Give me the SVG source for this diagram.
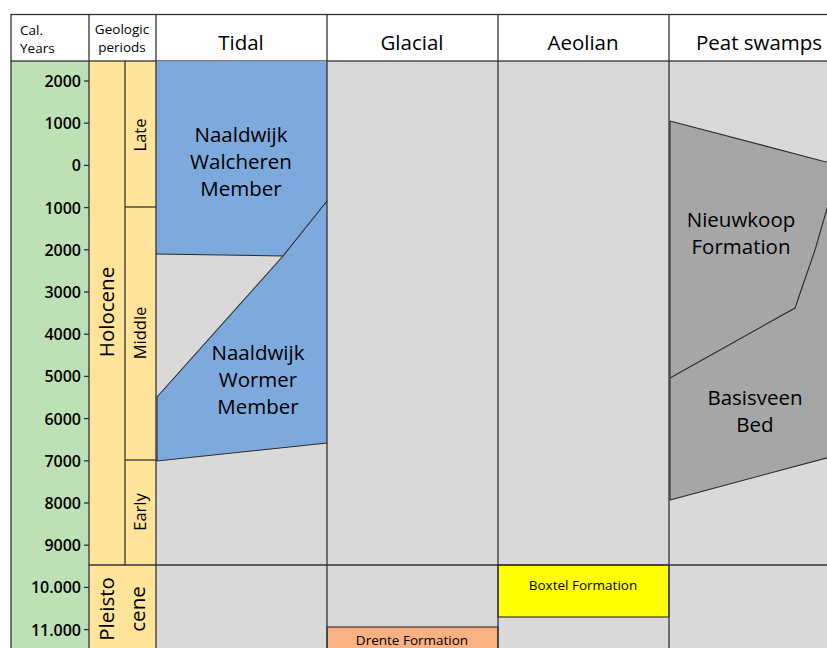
<svg xmlns="http://www.w3.org/2000/svg" width="827" height="648" viewBox="0 0 827 648">
  <style>
    text { font-family: "Open Sans", "Noto Sans", "DejaVu Sans", sans-serif; fill: #000; }
    .hdr { font-size: 20.5px; text-anchor: middle; }
    .hsm { font-size: 13.5px; }
    .yr { font-size: 16px; font-weight: 600; text-anchor: end; }
    .unit { font-size: 20.5px; text-anchor: middle; }
    .per { font-size: 16.5px; text-anchor: middle; }
    .big { font-size: 20.5px; text-anchor: middle; }
    .fm { font-size: 13.5px; text-anchor: middle; }
    .grid { stroke: #333; stroke-width: 1.3; fill: none; }
    .edge { stroke: #2a2a2a; stroke-width: 1.1; }
  </style>

  <!-- background panels -->
  <g id="background">
    <rect x="0" y="0" width="827" height="648" fill="#ffffff"/>
    <rect x="11" y="61" width="78" height="587" fill="#bde0b6"/>
    <rect x="89" y="61" width="67" height="587" fill="#ffe49a"/>
    <rect x="156" y="61" width="671" height="587" fill="#d9d9d9"/>
  </g>

  <!-- header row -->
  <g id="header">
    <rect x="11" y="14.5" width="830" height="46.5" fill="#ffffff" class="grid"/>
    <line x1="89" y1="14.5" x2="89" y2="61" class="grid"/>
    <line x1="156" y1="14.5" x2="156" y2="61" class="grid"/>
    <line x1="327" y1="14.5" x2="327" y2="61" class="grid"/>
    <line x1="498" y1="14.5" x2="498" y2="61" class="grid"/>
    <line x1="669" y1="14.5" x2="669" y2="61" class="grid"/>
    <text x="20" y="35" class="hsm">Cal.</text>
    <text x="20" y="53" class="hsm">Years</text>
    <text x="122" y="34" class="hsm" text-anchor="middle">Geologic</text>
    <text x="122" y="52" class="hsm" text-anchor="middle">periods</text>
    <text x="241" y="50" class="hdr">Tidal</text>
    <text x="412" y="50" class="hdr">Glacial</text>
    <text x="583" y="50" class="hdr">Aeolian</text>
    <text x="759" y="50" class="hdr">Peat swamps</text>
  </g>

  <!-- calendar years axis -->
  <g id="years-axis">
    <g class="grid">
      <line x1="84" y1="81" x2="89" y2="81"/>
      <line x1="84" y1="123.2" x2="89" y2="123.2"/>
      <line x1="84" y1="165.4" x2="89" y2="165.4"/>
      <line x1="84" y1="207.6" x2="89" y2="207.6"/>
      <line x1="84" y1="249.8" x2="89" y2="249.8"/>
      <line x1="84" y1="292" x2="89" y2="292"/>
      <line x1="84" y1="334.2" x2="89" y2="334.2"/>
      <line x1="84" y1="376.4" x2="89" y2="376.4"/>
      <line x1="84" y1="418.6" x2="89" y2="418.6"/>
      <line x1="84" y1="460.8" x2="89" y2="460.8"/>
      <line x1="84" y1="503" x2="89" y2="503"/>
      <line x1="84" y1="545.2" x2="89" y2="545.2"/>
      <line x1="84" y1="587.4" x2="89" y2="587.4"/>
      <line x1="84" y1="629.6" x2="89" y2="629.6"/>
    </g>
    <text x="81" y="87" class="yr">2000</text>
    <text x="81" y="129.2" class="yr">1000</text>
    <text x="81" y="171.4" class="yr">0</text>
    <text x="81" y="213.6" class="yr">1000</text>
    <text x="81" y="255.8" class="yr">2000</text>
    <text x="81" y="298" class="yr">3000</text>
    <text x="81" y="340.2" class="yr">4000</text>
    <text x="81" y="382.4" class="yr">5000</text>
    <text x="81" y="424.6" class="yr">6000</text>
    <text x="81" y="466.8" class="yr">7000</text>
    <text x="81" y="509" class="yr">8000</text>
    <text x="81" y="551.2" class="yr">9000</text>
    <text x="81" y="593.4" class="yr">10.000</text>
    <text x="81" y="635.6" class="yr">11.000</text>
  </g>

  <!-- geologic periods -->
  <g id="periods">
    <line x1="125" y1="61" x2="125" y2="565" class="grid"/>
    <line x1="125" y1="207" x2="156" y2="207" class="grid"/>
    <line x1="125" y1="460" x2="156" y2="460" class="grid"/>
    <text transform="translate(114 312) rotate(-90)" class="big">Holocene</text>
    <text transform="translate(146 135) rotate(-90)" class="per">Late</text>
    <text transform="translate(146 333) rotate(-90)" class="per">Middle</text>
    <text transform="translate(146 512) rotate(-90)" class="per">Early</text>
    <text transform="translate(114 609) rotate(-90)" class="big">Pleisto</text>
    <text transform="translate(145 609) rotate(-90)" class="big">cene</text>
  </g>

  <!-- tidal deposits -->
  <g id="tidal">
    <path d="M156 61 H327 V443 L157 461 V397 L283 256 L156 254 Z" fill="#7ea9dc"/>
    <path d="M156 254 L283 256 L327 201" class="edge" fill="none"/>
    <path d="M157 397 L283 256" class="edge" fill="none"/>
    <path d="M157 397 V461 L327 443" class="edge" fill="none"/>
    <text x="241" y="142" class="unit">Naaldwijk</text>
    <text x="241" y="169" class="unit">Walcheren</text>
    <text x="241" y="196" class="unit">Member</text>
    <text x="258" y="360" class="unit">Naaldwijk</text>
    <text x="258" y="387" class="unit">Wormer</text>
    <text x="258" y="414" class="unit">Member</text>
  </g>

  <!-- peat swamp deposits -->
  <g id="peat">
    <path d="M670 121 L830 163 V457 L670 500 Z" fill="#a6a6a6"/>
    <path d="M670 121 L830 163" class="edge" fill="none"/>
    <path d="M670 121 V500 L830 457" class="edge" fill="none"/>
    <path d="M830 198 L815 250 L795 308 L670 378" class="edge" fill="none"/>
    <text x="741" y="227" class="unit">Nieuwkoop</text>
    <text x="741" y="254" class="unit">Formation</text>
    <text x="755" y="405" class="unit">Basisveen</text>
    <text x="755" y="432" class="unit">Bed</text>
  </g>

  <!-- aeolian deposits -->
  <g id="boxtel">
    <rect x="498" y="565" width="171" height="52" fill="#ffff00" class="edge"/>
    <text x="583" y="590" class="fm">Boxtel Formation</text>
  </g>

  <!-- glacial deposits -->
  <g id="drente">
    <rect x="327" y="627" width="171" height="30" fill="#f8b183" class="edge"/>
    <text x="412" y="644.5" class="fm">Drente Formation</text>
  </g>

  <!-- column and epoch dividers -->
  <g id="dividers" class="grid">
    <line x1="11" y1="61" x2="11" y2="648"/>
    <line x1="89" y1="61" x2="89" y2="648"/>
    <line x1="156" y1="61" x2="156" y2="648"/>
    <line x1="327" y1="61" x2="327" y2="648"/>
    <line x1="498" y1="61" x2="498" y2="648"/>
    <line x1="669" y1="61" x2="669" y2="648"/>
    <line x1="89" y1="565" x2="827" y2="565"/>
  </g>
</svg>
